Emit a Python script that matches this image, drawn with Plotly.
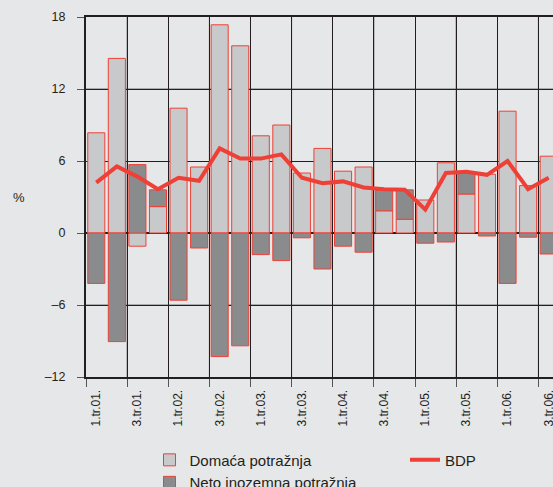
import plotly.graph_objects as go

quarters = ["1.tr.01.", "2.tr.01.", "3.tr.01.", "4.tr.01.",
            "1.tr.02.", "2.tr.02.", "3.tr.02.", "4.tr.02.",
            "1.tr.03.", "2.tr.03.", "3.tr.03.", "4.tr.03.",
            "1.tr.04.", "2.tr.04.", "3.tr.04.", "4.tr.04.",
            "1.tr.05.", "2.tr.05.", "3.tr.05.", "4.tr.05.",
            "1.tr.06.", "2.tr.06.", "3.tr.06."]

domaca = [8.35, 14.55, -1.1, 2.2, 10.4, 5.5, 17.35, 15.6, 8.1, 9.0, 5.0, 7.05,
          5.15, 5.5, 1.85, 1.15, 2.75, 5.85, 3.25, 4.9, 10.15, 3.95, 6.4]
neto = [-4.2, -9.05, 5.7, 1.4, -5.6, -1.25, -10.3, -9.4, -1.8, -2.3, -0.4, -3.0,
        -1.1, -1.6, 1.7, 2.45, -0.85, -0.75, 1.8, -0.25, -4.2, -0.35, -1.75]
bdp = [4.2, 5.55, 4.7, 3.65, 4.6, 4.35, 7.05, 6.2, 6.2, 6.55, 4.6, 4.15,
       4.3, 3.8, 3.65, 3.6, 1.95, 5.0, 5.1, 4.85, 6.0, 3.65, 4.6]

y_ticks = [-12, -6, 0, 6, 12, 18]
y_labels = ["–12", "–6", "0", "6", "12", "18"]

BG = "#e6e7e8"
RED = "#ee4036"
FONT = "Liberation Sans, Arial, sans-serif"
TXT = "#231f20"

fig = go.Figure()
fig.add_trace(go.Bar(x=quarters, y=domaca, name="Domaća potražnja",
                     marker=dict(color="#c8c9cb", line=dict(color=RED, width=1)),
                     legend="legend"))
fig.add_trace(go.Bar(x=quarters, y=neto, name="Neto inozemna potražnja",
                     marker=dict(color="#8a8b8d", line=dict(color=RED, width=1)),
                     legend="legend"))
fig.add_trace(go.Scatter(x=quarters, y=bdp, name="BDP", mode="lines",
                         line=dict(color=RED, width=4), legend="legend2"))

n = len(quarters)
shapes = []
# lighter gridlines at mid-year boundaries
for i in range(2, n, 4):
    shapes.append(dict(type="line", xref="x", yref="y", x0=i - 0.5, x1=i - 0.5,
                       y0=y_ticks[0], y1=y_ticks[-1], layer="below",
                       line=dict(color="#6f6f71", width=1)))
for v in (12, -6):
    shapes.append(dict(type="line", xref="paper", yref="y", x0=0, x1=1,
                       y0=v, y1=v, layer="below",
                       line=dict(color="#6f6f71", width=1)))

legend_common = dict(yanchor="top", y=-0.185, xanchor="left",
                     font=dict(size=15, family=FONT, color=TXT),
                     bgcolor="rgba(0,0,0,0)", tracegroupgap=0)

fig.update_layout(
    width=553, height=487,
    paper_bgcolor=BG, plot_bgcolor=BG,
    margin=dict(l=86, r=0, t=17, b=110, autoexpand=False),
    barmode="relative", bargap=0.17,
    font=dict(family=FONT, color=TXT, size=12),
    shapes=shapes,
    showlegend=True,
    legend=dict(orientation="v", x=(149.5 - 86) / 467, traceorder="normal", **legend_common),
    legend2=dict(orientation="v", x=(405 - 86) / 467, **legend_common),
    annotations=[dict(text="%", xref="paper", yref="paper", x=0, y=0.5,
                      xanchor="center", yanchor="middle", xshift=-67,
                      showarrow=False, font=dict(size=13, family=FONT, color=TXT))],
)

fig.update_xaxes(
    type="category", categoryorder="array", categoryarray=quarters,
    range=[-0.5, 22.21], dtick=2, tickson="boundaries",
    ticks="outside", ticklen=8, tickcolor="#555", tickwidth=1,
    tickangle=-90, tickfont=dict(size=12), ticklabelstandoff=6,
    showgrid=True, gridcolor="#231f20", gridwidth=1,
    showline=True, linecolor="#231f20", linewidth=2, mirror=True,
)
fig.update_yaxes(
    range=[-12, 18], tickvals=y_ticks, ticktext=y_labels,
    ticks="outside", ticklen=7, tickcolor="#555", tickwidth=1,
    tickfont=dict(size=12.5), ticklabelstandoff=9,
    showgrid=True, gridcolor="#231f20", gridwidth=1,
    zeroline=True, zerolinecolor="#231f20", zerolinewidth=2,
    showline=True, linecolor="#231f20", linewidth=2,
)

fig.write_html("out.html",
               config={"displayModeBar": False},
               post_script="document.body.style.margin='0';"
                           "document.body.style.background='#e6e7e8';"
                           "document.documentElement.style.overflow='hidden';")
